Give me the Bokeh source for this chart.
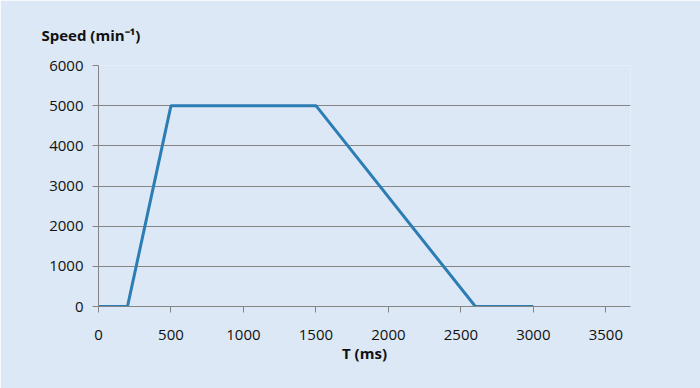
from bokeh.plotting import figure
from bokeh.models import Range1d, FixedTicker
from bokeh.embed import file_html
from bokeh.resources import INLINE

# Data
time_ms = [0, 200, 500, 1500, 2600, 3000]
speed = [0, 0, 5000, 5000, 0, 0]
x_ticks = [0, 500, 1000, 1500, 2000, 2500, 3000, 3500]
y_ticks = [0, 1000, 2000, 3000, 4000, 5000, 6000]

BG = "#dce8f5"
GRID = "#858585"
FONT = "Open Sans"

p = figure(width=700, height=388, output_backend="svg", toolbar_location=None,
           x_range=Range1d(0, 3670), y_range=Range1d(0, 6000),
           background_fill_color=BG, border_fill_color=BG, outline_line_color=None,
           min_border_left=98, min_border_right=70, min_border_top=65, min_border_bottom=82,
           title="Speed (min⁻¹)")

p.line(time_ms, speed, line_color="#2b7db3", line_width=3)

p.title.text_font = FONT
p.title.text_font_size = "15px"
p.title.text_font_style = "bold"
p.title.text_color = "#111111"
p.title.align = "left"
p.title.offset = -57
p.title.standoff = 41

p.xgrid.grid_line_color = None
p.ygrid.grid_line_color = GRID
p.ygrid.grid_line_width = 1
p.yaxis.ticker = FixedTicker(ticks=y_ticks)
p.xaxis.ticker = FixedTicker(ticks=x_ticks)

for ax in (p.xaxis[0], p.yaxis[0]):
    ax.axis_line_color = GRID
    ax.major_tick_line_color = GRID
    ax.minor_tick_line_color = None
    ax.major_tick_in = 0
    ax.major_tick_out = 6
    ax.major_label_text_font = FONT
    ax.major_label_text_font_size = "15px"
    ax.major_label_text_color = "#111111"
p.xaxis.major_label_standoff = 17
p.yaxis.major_label_standoff = 9

p.xaxis.axis_label = "T (ms)"
p.xaxis.axis_label_text_font = FONT
p.xaxis.axis_label_text_font_size = "15px"
p.xaxis.axis_label_text_font_style = "bold"
p.xaxis.axis_label_text_color = "#111111"
p.xaxis.axis_label_standoff = 0

html = file_html(p, INLINE)
html = html.replace("<body>", '<body style="background:%s">' % BG, 1)
open("out.html", "w").write(html)
